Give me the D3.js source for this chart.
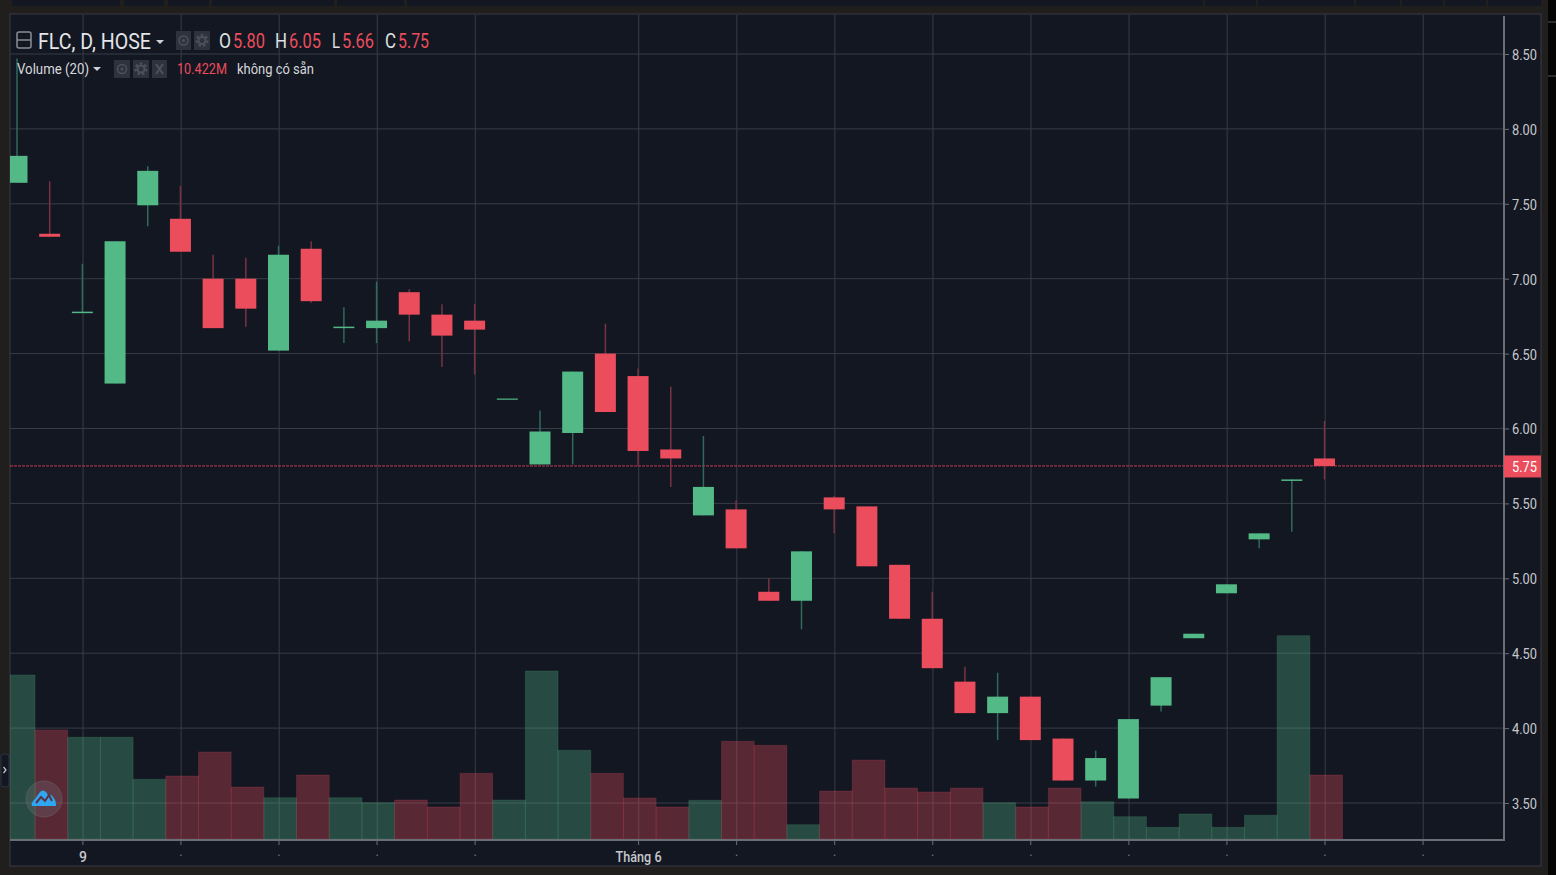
<!DOCTYPE html>
<html>
<head>
<meta charset="utf-8">
<title>FLC, D, HOSE</title>
<script src="https://cdn.jsdelivr.net/npm/d3@7"></script>
<style>
  html, body { margin: 0; padding: 0; background: #211f1d; overflow: hidden; }
  svg { display: block; font-family: Roboto, "Liberation Sans", sans-serif; }
</style>
</head>
<body>
<svg id="chart" width="1556" height="875"></svg>
<script>
// values, one entry per trading day
const dates = ['05-07','05-08','05-09','05-10','05-11','05-14','05-15','05-16','05-17','05-18','05-21','05-22','05-23','05-24','05-25','05-28','05-29','05-30','05-31','06-01','06-04','06-05','06-06','06-07','06-08','06-11','06-12','06-13','06-14','06-15','06-18','06-19','06-20','06-21','06-22','06-25','06-26','06-27','06-28','06-29','07-02'];
const opens  = [7.64,7.30,6.77,6.30,7.49,7.40,7.00,7.00,6.52,7.20,6.67,6.67,6.91,6.76,6.72,6.20,5.76,5.97,6.50,6.35,5.86,5.42,5.46,4.91,4.85,5.54,5.48,5.09,4.73,4.31,4.10,4.21,3.93,3.65,3.53,4.15,4.60,4.90,5.26,5.65,5.80];
const highs  = [8.47,7.65,7.10,7.25,7.75,7.62,7.16,7.14,7.22,7.25,6.81,6.98,6.93,6.83,6.83,6.20,6.12,6.38,6.70,6.40,6.28,5.95,5.52,5.00,5.18,5.55,5.48,5.09,4.91,4.41,4.37,4.21,3.93,3.85,4.06,4.34,4.63,4.96,5.30,5.66,6.05];
const lows   = [7.64,7.28,6.77,6.30,7.35,7.18,6.67,6.68,6.52,6.84,6.57,6.57,6.58,6.41,6.36,6.20,5.76,5.76,6.11,5.75,5.61,5.42,5.20,4.85,4.66,5.30,5.08,4.73,4.40,4.10,3.92,3.92,3.65,3.61,3.53,4.11,4.60,4.90,5.20,5.31,5.66];
const closes = [7.82,7.28,6.78,7.25,7.72,7.18,6.67,6.80,7.16,6.85,6.68,6.72,6.76,6.62,6.66,6.20,5.98,6.38,6.11,5.85,5.80,5.61,5.20,4.85,5.18,5.46,5.08,4.73,4.40,4.10,4.21,3.92,3.65,3.80,4.06,4.34,4.63,4.96,5.30,5.66,5.75];
const volumes = [26.70,17.75,16.56,16.56,9.72,10.26,14.16,8.47,6.72,10.42,6.72,5.91,6.35,5.21,10.70,6.35,27.35,14.44,10.70,6.67,5.21,6.30,15.91,15.25,2.33,7.81,12.86,8.30,7.65,8.30,5.91,5.21,8.30,6.07,3.63,1.90,4.07,1.90,3.86,33.10,10.42];

const priceTicks = [3.5,4,4.5,5,5.5,6,6.5,7,7.5,8,8.5];
const timeTicks  = [2,5,8,11,14,19,22,25,28,31,34,37,40,43];
const timeLabels = ['9','.','.','.','.','Tháng 6','.','.','.','.','.','.','.','.'];
const lastPrice = 5.75;

const ohlc = [['O','5.80'],['H','6.05'],['L','5.66'],['C','5.75']];

const green = '#53b987', red = '#eb4d5c';
const greenWick = '#2f6a5a', redWick = '#7a3242';

const svg = d3.select('#chart');

// the panel and the plot area inside it
const panel = { left: 10, right: 1541, top: 14, bottom: 866 };
const plot  = { left: 10, right: 1504, top: 15, bottom: 840 };

// top strip of toolbar cells, and the black edge on the right
const stripCells = [[12,120],[124,164],[168,209],[212,334],[337,404],[407,1203],[1205,1256],[1258,1354],[1356,1400],[1402,1443],[1445,1486],[1488,1541]];
svg.selectAll('.cell').data(stripCells).enter().append('rect')
  .attr('class', 'cell')
  .attr('x', d => d[0]).attr('y', 0)
  .attr('width', d => d[1] - d[0]).attr('height', 6)
  .attr('fill', '#131722');
svg.append('rect').attr('x', 1548).attr('y', 0).attr('width', 8).attr('height', 875).attr('fill', '#050505');
[22, 76].forEach(y => svg.append('line').attr('x1', 1548).attr('x2', 1556).attr('y1', y).attr('y2', y).attr('stroke', '#55565a'));

svg.append('rect')
  .attr('x', panel.left).attr('y', panel.top)
  .attr('width', panel.right - panel.left).attr('height', panel.bottom - panel.top)
  .attr('fill', '#131722').attr('stroke', '#3a3d47');

// scales, x is by bar position so the weekends do not leave gaps
const x = d3.scaleLinear().domain([0, dates.length - 1]).range([17, 1324.5]);
const y = d3.scaleLinear().domain([3.5, 8.5]).range([803, 54]);
const yVol = d3.scaleLinear().domain([0, d3.max(volumes)]).range([839, 635.7]);

const barStep = x(1) - x(0);
const bodyWidth = 21;

svg.append('clipPath').attr('id', 'plotClip').append('rect')
  .attr('x', plot.left).attr('y', plot.top)
  .attr('width', plot.right - plot.left).attr('height', plot.bottom - plot.top);

const grid = svg.append('g').attr('stroke', '#383c47').attr('stroke-width', 1);
grid.selectAll('.h').data(priceTicks).enter().append('line')
  .attr('x1', plot.left).attr('x2', plot.right)
  .attr('y1', d => y(d)).attr('y2', d => y(d));
grid.selectAll('.v').data(timeTicks).enter().append('line')
  .attr('x1', d => x(d) + 0.7).attr('x2', d => x(d) + 0.7)
  .attr('y1', plot.top).attr('y2', plot.bottom);

const marks = svg.append('g').attr('clip-path', 'url(#plotClip)');

// Volume bars go first so the candles stay on top of them, see-through so the grid shows
marks.selectAll('.vol').data(volumes).enter().append('rect')
  .attr('class', 'vol')
  .attr('x', (d, i) => x(i) - barStep / 2 + 1.7)
  .attr('y', d => yVol(d))
  .attr('width', barStep)
  .attr('height', d => yVol(0) - yVol(d))
  .attr('fill', (d, i) => closes[i] >= opens[i] ? green : red)
  .attr('fill-opacity', 0.32)
  .attr('stroke', (d, i) => closes[i] >= opens[i] ? green : red)
  .attr('stroke-opacity', 0.18)
  .attr('stroke-width', 1);

// last price line, densely dotted
marks.append('line')
  .attr('x1', plot.left).attr('x2', plot.right)
  .attr('y1', y(lastPrice)).attr('y2', y(lastPrice))
  .attr('stroke', '#c93a52').attr('stroke-width', 1).attr('stroke-dasharray', '3,1');

marks.selectAll('.wick').data(dates).enter().append('line')
  .attr('class', 'wick')
  .attr('x1', (d, i) => x(i)).attr('x2', (d, i) => x(i))
  .attr('y1', (d, i) => y(highs[i])).attr('y2', (d, i) => y(lows[i]))
  .attr('stroke', (d, i) => closes[i] >= opens[i] ? greenWick : redWick)
  .attr('stroke-width', 1.5);

marks.selectAll('.body').data(dates).enter().append('rect')
  .attr('class', 'body')
  .attr('x', (d, i) => x(i) - bodyWidth / 2)
  .attr('y', (d, i) => y(Math.max(opens[i], closes[i])))
  .attr('width', bodyWidth)
  .attr('height', (d, i) => Math.max(1.2, Math.abs(y(opens[i]) - y(closes[i]))))
  .attr('fill', (d, i) => closes[i] >= opens[i] ? green : red);

// axes
const yAxis = d3.axisRight(y).tickValues(priceTicks).tickFormat(d3.format('.2f')).tickSize(5).tickPadding(3);
const yg = svg.append('g').attr('transform', 'translate(' + plot.right + ',0)').call(yAxis);
const xAxis = d3.axisBottom(x).tickValues(timeTicks).tickFormat((d, i) => timeLabels[i]).tickSize(5).tickPadding(7);
const xg = svg.append('g').attr('transform', 'translate(0,' + plot.bottom + ')').call(xAxis);

[yg, xg].forEach(g => {
  g.select('.domain').remove();
  g.selectAll('line').attr('stroke', '#6b6e75');
  g.selectAll('text').attr('fill', '#c6c8cc').attr('font-size', 14)
    .style('font-family', 'Roboto, sans-serif');
});
yg.selectAll('text').attr('dy', '0.39em').attr('textLength', 25).attr('lengthAdjust', 'spacingAndGlyphs');
xg.selectAll('text').attr('font-weight', 500);
xg.selectAll('text').filter(d => timeLabels[timeTicks.indexOf(d)] === 'Tháng 6')
  .attr('textLength', 46).attr('lengthAdjust', 'spacingAndGlyphs');
xg.selectAll('text').filter(d => timeLabels[timeTicks.indexOf(d)] === '.').attr('fill', '#7d8087').attr('font-size', 10).attr('dy', '0.4em');

svg.append('line').attr('x1', plot.left).attr('x2', plot.right + 1).attr('y1', plot.bottom).attr('y2', plot.bottom)
  .attr('stroke', '#6b6e75').attr('stroke-width', 2);
svg.append('line').attr('x1', plot.right).attr('x2', plot.right).attr('y1', plot.top + 1).attr('y2', plot.bottom)
  .attr('stroke', '#6b6e75').attr('stroke-width', 2);

// last price tag
svg.append('rect').attr('x', 1504).attr('y', y(lastPrice) - 10.5).attr('width', 37).attr('height', 22).attr('fill', red);
svg.append('text').attr('x', 1512).attr('y', y(lastPrice) + 6)
  .attr('fill', '#fff').attr('font-size', 14)
  .attr('textLength', 25).attr('lengthAdjust', 'spacingAndGlyphs').text(lastPrice.toFixed(2));

// legend, the screenshot is squeezed sideways so texts get a fixed length
function label(txt, xPos, yPos, size, width, color) {
  return svg.append('text').attr('x', xPos).attr('y', yPos).attr('font-size', size).attr('fill', color)
    .attr('textLength', width).attr('lengthAdjust', 'spacingAndGlyphs').text(txt);
}
svg.append('rect').attr('x', 17).attr('y', 32).attr('width', 14).attr('height', 16).attr('rx', 2)
  .attr('fill', 'none').attr('stroke', '#8a8d94').attr('stroke-width', 1.5);
svg.append('line').attr('x1', 17).attr('x2', 31).attr('y1', 40).attr('y2', 40).attr('stroke', '#8a8d94').attr('stroke-width', 1.5);
label('FLC, D, HOSE', 38, 49, 22, 113, '#e4e5e8');

function caret(cx, cy) {
  svg.append('path').attr('d', 'M' + (cx - 4) + ',' + cy + 'h8l-4,4z').attr('fill', '#d0d2d6');
}
caret(160, 40);

function iconBox(xPos, yPos, w, h, glyph) {
  svg.append('rect').attr('x', xPos).attr('y', yPos).attr('width', w).attr('height', h).attr('fill', '#2e323c');
  if (glyph === 'x') {
    svg.append('path').attr('d', 'M' + (xPos + 4) + ',' + (yPos + 4) + 'l' + (w - 8) + ',' + (h - 8) + 'M' + (xPos + w - 4) + ',' + (yPos + 4) + 'l' + (8 - w) + ',' + (h - 8))
      .attr('stroke', '#4d515c').attr('stroke-width', 2);
  } else if (glyph === 'eye') {
    svg.append('circle').attr('cx', xPos + w / 2).attr('cy', yPos + h / 2).attr('r', 4.5)
      .attr('fill', 'none').attr('stroke', '#4d515c').attr('stroke-width', 1.5);
    svg.append('circle').attr('cx', xPos + w / 2).attr('cy', yPos + h / 2).attr('r', 1.5).attr('fill', '#4d515c');
  } else {
    // gear, a ring with a dashed outer edge for the teeth
    svg.append('circle').attr('cx', xPos + w / 2).attr('cy', yPos + h / 2).attr('r', 3.5)
      .attr('fill', 'none').attr('stroke', '#4d515c').attr('stroke-width', 2);
    svg.append('circle').attr('cx', xPos + w / 2).attr('cy', yPos + h / 2).attr('r', 5.5)
      .attr('fill', 'none').attr('stroke', '#4d515c').attr('stroke-width', 2).attr('stroke-dasharray', '2.5,2.3');
  }
}
iconBox(176, 31, 15, 19, 'eye');
iconBox(194, 31, 16, 19, 'gear');

const ohlcX = [[219,233,32],[275,289,32],[332,342,32],[385,398,31]];
ohlc.forEach((d, i) => {
  label(d[0], ohlcX[i][0], 48, 20, ohlcX[i][1] - ohlcX[i][0] - 2, '#dfe0e3');
  label(d[1], ohlcX[i][1], 48, 20, ohlcX[i][2], red);
});

label('Volume (20)', 17, 74, 15, 72, '#d6d7da');
caret(97, 67);
iconBox(114, 60, 16, 18, 'eye');
iconBox(133, 60, 16, 18, 'gear');
iconBox(152, 60, 15, 18, 'x');
label('10.422M', 177, 74, 15, 50, red);
label('không có sẵn', 237, 74, 15, 77, '#d6d7da');

// side handle and logo
svg.append('rect').attr('x', 1).attr('y', 754).attr('width', 8).attr('height', 33).attr('rx', 3)
  .attr('fill', '#131722').attr('stroke', '#2d3240');
svg.append('path').attr('d', 'M3.5,767l2.5,3l-2.5,3').attr('fill', 'none').attr('stroke', '#c6c8cc').attr('stroke-width', 1.2);
svg.append('circle').attr('cx', 44).attr('cy', 799).attr('r', 18)
  .attr('fill', '#6f7378').attr('fill-opacity', 0.3).attr('stroke', '#6f7378').attr('stroke-opacity', 0.4);
svg.append('path')
  .attr('d', 'M32,806c-1-3 1-5 3-7l5-7c2-2 4-2 6,0l2,3c2-1 4 0 5,2l2,3c1,2 1,5 1,6z')
  .attr('fill', '#2fa6f2');
svg.append('path').attr('d', 'M36,803l5-6l4,4l4-6l3,6').attr('fill', 'none').attr('stroke', '#5b3140').attr('stroke-width', 2);
</script>
</body>
</html>
